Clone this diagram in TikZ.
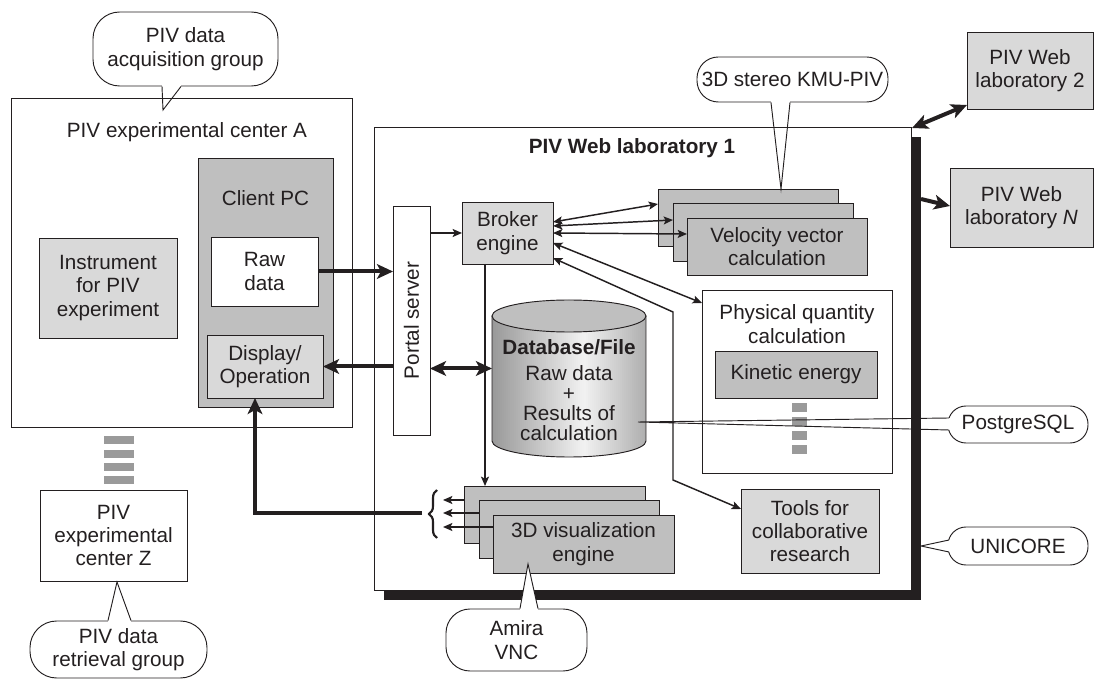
\documentclass[tikz,border=0pt]{standalone}
\usepackage{fontspec}
\setmainfont{Liberation Sans}
\usetikzlibrary{arrows.meta,calc,decorations.pathreplacing}
\definecolor{ink}{HTML}{231F20}
\definecolor{lg}{HTML}{D9D9D9}
\definecolor{dg}{HTML}{BFBFBF}
\definecolor{dashgray}{HTML}{9A9A9A}
\begin{document}
\begin{tikzpicture}[x=0.75pt,y=-0.75pt,
  every node/.style={text=ink},
  bb/.style args={#1/#2/#3/#4}{minimum width={(#3-#1)*0.75pt},minimum height={(#4-#2)*0.75pt},at={({(#1+#3)/2},{(#2+#4)/2})}},
  pbox/.style={draw=ink,line width=0.7pt,inner sep=0pt,outer sep=0pt,align=center},
  pwbox/.style={pbox,fill=white},
  plbox/.style={pbox,fill=lg},
  pdbox/.style={pbox,fill=dg},
  plbl/.style={align=center,inner sep=0pt},
  pbubble/.style={draw=ink,fill=white,line width=0.7pt,inner sep=0pt,align=center},
  pptr/.style={draw=ink,line width=0.7pt,line join=miter},
  peraser/.style={draw=white,line width=2.5pt},
  fatA/.style={draw=ink,line width=3pt,-{Stealth[length=12pt,width=11pt,inset=3pt]}},
  fatAA/.style={draw=ink,line width=3pt,{Stealth[length=12pt,width=11pt,inset=3pt]}-{Stealth[length=12pt,width=11pt,inset=3pt]}},
  arrA/.style={draw=ink,line width=1.1pt,-{Stealth[length=7pt,width=6pt,inset=1.5pt]}},
  arrAA/.style={draw=ink,line width=1.1pt,{Stealth[length=7pt,width=6pt,inset=1.5pt]}-{Stealth[length=7pt,width=6pt,inset=1.5pt]}},
  dashblk/.style={fill=dashgray,draw=none,inner sep=0pt,outer sep=0pt},
  font=\fontsize{15.5}{17.5}\selectfont]
\useasboundingbox (0,0) rectangle (1096,680);

% ---------- Experimental center A ----------
\node[pwbox,bb=11/98/352/427] (cA) {};
\node[plbl] (cAt) at (187,132) {PIV experimental center A};
\node[pdbox,bb=198/158/333/407] (client) {};
\node[plbl] (clientt) at (265.5,198) {Client PC};
\node[pwbox,bb=211/237/318/306] (raw) {Raw\\data};
\node[plbox,bb=207/335/323/398] (disp) {Display/\\Operation};
\node[plbox,bb=39/238/177/338] (instr) {Instrument\\for PIV\\experiment};

% dashes between A and Z
\node[dashblk,bb=104/436/134/444] (dz1) {};
\node[dashblk,bb=104/450/134/458] (dz2) {};
\node[dashblk,bb=104/463/134/471] (dz3) {};
\node[dashblk,bb=104/476/134/484] (dz4) {};

\node[pwbox,bb=40/490/187/581] (cZ) {PIV\\experimental\\center Z};

% ---------- Web laboratory 1 ----------
\node[fill=ink,inner sep=0pt,outer sep=0pt,bb=384/137/921/600] (lab1s) {};
\node[pwbox,bb=374/127/911/590] (lab1) {};
\node[plbl,font=\fontsize{15.5}{17.5}\selectfont\bfseries] (lab1t) at (632,148) {PIV Web laboratory 1};

\node[pwbox,bb=393/206/430/435] (portal) {};
\node[plbl,rotate=90] (portalt) at (portal.center) {Portal server};

\node[plbox,bb=462/202/553/264] (broker) {Broker\\engine};

\node[pdbox,bb=658/189/838/246] (v1) {};
\node[pdbox,bb=673/203/853/261] (v2) {};
\node[pdbox,bb=687/218/867/275] (v3) {Velocity vector\\calculation};

\node[pwbox,bb=702/290/892/473] (phys) {};
\node[plbl] (physt) at (797,324) {Physical quantity\\calculation};
\node[pdbox,bb=715/351/877/398] (kin) {Kinetic energy};
\node[dashblk,bb=792/403/807/412] (kd1) {};
\node[dashblk,bb=792/417/807/426] (kd2) {};
\node[dashblk,bb=792/431/807/440] (kd3) {};
\node[dashblk,bb=792/445/807/454] (kd4) {};

\node[plbox,bb=741/489/879/573] (tools) {Tools for\\collaborative\\research};

\node[pdbox,bb=464/486/645/543] (g1) {};
\node[pdbox,bb=479/500/659/558] (g2) {};
\node[pdbox,bb=493/515/674/573] (g3) {3D visualization\\engine};

% database cylinder
\node[inner sep=0pt,outer sep=0pt,bb=492/300/646/457] (db) {};
\begin{scope}
\clip (db.north west) ++(0,16) -- ++(0,125) arc[start angle=180,end angle=0,x radius=77,y radius=16] -- ++(0,-125) -- cycle;
\foreach \i in {0,...,76}{
  \pgfmathsetmacro\tt{\i/76}
  \pgfmathsetmacro\kk{\tt<0.6 ? 40-58*\tt : 5.2+65*(\tt-0.6)}
  \fill[black!\kk] ({492+2*\i},300) rectangle ({492+2*\i+2.3},460);
}
\end{scope}
\draw[draw=ink,line width=0.7pt]
  (db.north west) ++(0,16) -- ++(0,125) arc[start angle=180,end angle=0,x radius=77,y radius=16] -- ++(0,-125);
\path[draw=ink,line width=0.7pt,fill=dg] ($(db.north)+(0,16)$) ellipse[x radius=77,y radius=16];
\node[plbl,font=\fontsize{15.5}{17.5}\selectfont\bfseries] (dbt) at (569,347) {Database/File};
\node[plbl,font=\fontsize{15.5}{15}\selectfont] (dbb) at (569,403) {Raw data\\+\\Results of\\calculation};

% ---------- Other laboratories ----------
\node[plbox,bb=967/32/1093/109] (lab2) {PIV Web\\laboratory 2};
\node[plbox,bb=950/168/1093/247] (labN) {PIV Web\\laboratory \textit{N}};

% ---------- Arrows ----------
\draw[fatA] (raw.east) -- (raw.east -| portal.west);
\draw[fatA] (portal.west |- disp.east) -- (disp.east);
\coordinate (dbin) at ($(db.west)+(0,-10)$);
\draw[fatAA] (portal.east |- dbin) -- (dbin);
\draw[arrA] (portal.east |- broker.west) -- (broker.west);

\draw[arrAA] ($(broker.east)+(0,-11)$) -- ($(v1.west)+(0,-13.5)$);
\draw[arrAA] ($(broker.east)+(0,-7)$) -- ($(v2.west)+(0,-12)$);
\draw[arrAA] (broker.east) -- ($(v3.west)+(0,-12.5)$);
\draw[arrAA] ($(broker.east)+(0,10)$) -- ($(phys.north west)+(0,13)$);

\coordinate (bt1) at (673,312);
\coordinate (bt2) at (673,480);
\draw[arrAA] ($(broker.south east)+(0,-6)$) -- (bt1) -- (bt2) -- ($(tools.west)+(0,-22)$);

\coordinate (bg) at ($(broker.south west)+(23,0)$);
\draw[arrA] (bg) -- (bg |- g1.north);

\coordinate (brR) at (443,513);
\coordinate (ga1) at ($(g1.west)+(0,-14.5)$);
\coordinate (ga2) at ($(g2.west)+(0,-16)$);
\coordinate (ga3) at ($(g3.west)+(0,-17)$);
\draw[arrA] (ga1) -- (ga1 -| brR);
\draw[arrA] (ga2) -- (ga2 -| brR);
\draw[arrA] (ga3) -- (ga3 -| brR);
\coordinate (brTop) at (437,490);
\coordinate (brBot) at (437,538);
\draw[draw=ink,line width=1.6pt,decorate,decoration={brace,amplitude=6pt}] (brBot) -- (brTop);

\coordinate (brtip) at (422,513);
\coordinate (dcorner) at ($(disp.south)+(-10,0)$);
\draw[fatA] (brtip) -- (brtip -| dcorner) -- (dcorner);

\draw[fatAA] ($(lab2.south west)+(0,-4)$) -- ($(lab1.north east)+(1,1)$);
\draw[fatA] ($(lab1s.north east)+(0,62)$) -- ($(labN.west)+(0,-1.5)$);

% ---------- Callouts ----------
\node[pbubble,rounded corners=20pt,bb=93/12/278/86] (acq) {PIV data\\acquisition group};
\coordinate (acqL) at ($(acq.south)+(-23.5,0)$);
\coordinate (acqR) at ($(acq.south)+(-4.5,0)$);
\coordinate (acqT) at ($(cA.north west)+(152,12)$);
\draw[peraser] (acqL) -- (acqR);
\draw[pptr] (acqL) -- (acqT) -- (acqR);

\node[pbubble,rounded corners=16pt,bb=697/57/888/102] (stereo) {3D stereo KMU-PIV};
\coordinate (stL) at ($(stereo.south)+(-21.5,0)$);
\coordinate (stR) at ($(stereo.south)+(-2.5,0)$);
\coordinate (stT) at ($(v1.north)+(33,0)$);
\draw[peraser] (stL) -- (stR);
\draw[pptr] (stL) -- (stT) -- (stR);

\node[pbubble,rounded corners=13.5pt,bb=948/406/1088/443] (pg) {PostgreSQL};
\coordinate (pgL) at ($(pg.west)+(1.5,-6.5)$);
\coordinate (pgR) at ($(pg.west)+(1.5,5.5)$);
\coordinate (pgT) at ($(db.east)+(-8,43.5)$);
\draw[peraser] (pgL) -- (pgR);
\draw[pptr] (pgL) -- (pgT) -- (pgR);

\node[pbubble,rounded corners=13.5pt,bb=948/527/1088/565] (uni) {UNICORE};
\coordinate (unL) at ($(uni.west)+(1.5,-6)$);
\coordinate (unR) at ($(uni.west)+(1.5,6)$);
\coordinate (unT) at (lab1s.east |- uni.west);
\draw[peraser] (unL) -- (unR);
\draw[pptr] (unL) -- (unT) -- (unR);

\node[pbubble,rounded corners=18pt,bb=446/609/587/671] (amira) {Amira\\VNC};
\coordinate (amL) at ($(amira.north)+(3.5,0)$);
\coordinate (amR) at ($(amira.north)+(21.5,0)$);
\coordinate (amT) at ($(g3.south)+(-55.5,-9)$);
\fill[white] (amL) -- (amT) -- (amR) -- cycle;
\draw[peraser] (amL) -- (amR);
\draw[pptr] (amL) -- (amT) -- (amR);

\node[pbubble,rounded corners=20pt,bb=30/621/207/678] (retr) {PIV data\\retrieval group};
\coordinate (reL) at ($(retr.north)+(-10.5,0)$);
\coordinate (reR) at ($(retr.north)+(12.5,0)$);
\coordinate (reT) at ($(cZ.south)+(3.5,1)$);
\draw[peraser] (reL) -- (reR);
\draw[pptr] (reL) -- (reT) -- (reR);
\end{tikzpicture}
\end{document}
